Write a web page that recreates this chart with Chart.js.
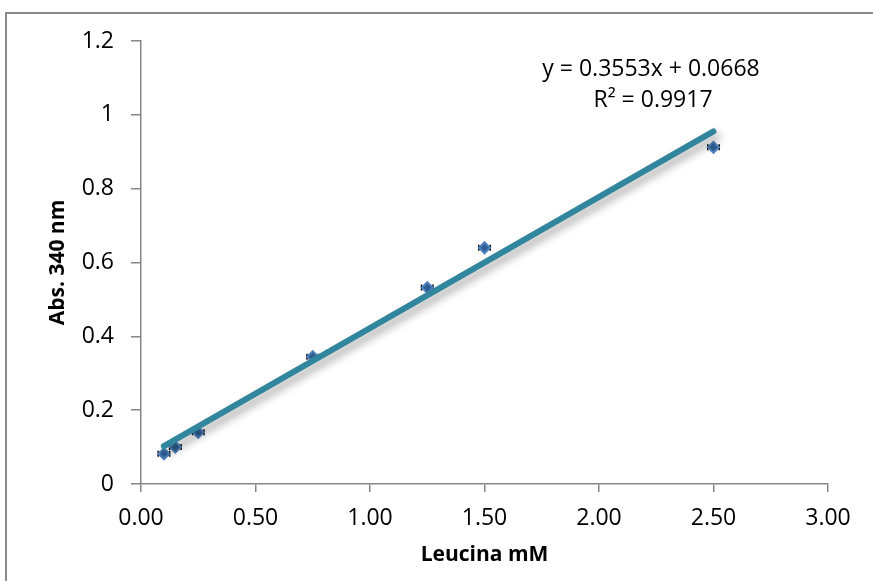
<!DOCTYPE html>
<html>
<head>
<meta charset="utf-8">
<script src="https://cdn.jsdelivr.net/npm/chart.js@4/dist/chart.umd.min.js"></script>
<style>
  html,body{margin:0;padding:0;background:#fff;}
  #wrap{position:relative;width:873px;height:581px;}
  canvas{display:block;}
</style>
</head>
<body>
<div id="wrap"><canvas id="c" width="873" height="581"></canvas></div>
<script>
// ---- data ----
const leucina = [0.10, 0.15, 0.25, 0.75, 1.25, 1.50, 2.50];
const absorbance = [0.082, 0.100, 0.140, 0.345, 0.532, 0.640, 0.912];
const xError = [0.025, 0.025, 0.025, 0.025, 0.025, 0.025, 0.025];
const trendSlope = 0.3553;
const trendIntercept = 0.0668;
const trendRange = [0.10, 2.50];
const equationLines = ["y = 0.3553x + 0.0668", "R\u00B2 = 0.9917"];
const yTicks = [0, 0.2, 0.4, 0.6, 0.8, 1, 1.2];
const xTicks = [0, 0.5, 1, 1.5, 2, 2.5, 3];

const FONT = "'Open Sans', Lato, sans-serif";
const AXIS_COLOR = '#868686';

const points = leucina.map((x, i) => ({x, y: absorbance[i]}));
const trendPts = trendRange.map(x => ({x, y: trendSlope * x + trendIntercept}));

const framePlugin = {
  id: 'frame',
  beforeDraw(chart) {
    const ctx = chart.ctx;
    ctx.save();
    ctx.fillStyle = '#fff';
    ctx.fillRect(0, 0, chart.width, chart.height);
    ctx.strokeStyle = '#8a8a8a';
    ctx.lineWidth = 2;
    ctx.strokeRect(6, 13, 900, 620);
    ctx.restore();
  }
};

const shadowPlugin = {
  id: 'shadow',
  beforeDatasetDraw(chart, args) {
    if (args.index === 0) {
      const ctx = chart.ctx;
      ctx.save();
      ctx.shadowColor = 'rgba(0,0,0,0.35)';
      ctx.shadowBlur = 8;
      ctx.shadowOffsetX = 4;
      ctx.shadowOffsetY = 5;
    }
  },
  afterDatasetDraw(chart, args) {
    if (args.index === 0) chart.ctx.restore();
  }
};

const errorBarPlugin = {
  id: 'errbars',
  beforeDatasetDraw(chart, args) {
    if (args.index !== 1) return;
    const ctx = chart.ctx;
    const xs = chart.scales.x, ys = chart.scales.y;
    ctx.save();
    ctx.strokeStyle = '#000';
    ctx.lineWidth = 1.5;
    leucina.forEach((x, i) => {
      const py = ys.getPixelForValue(absorbance[i]);
      const x1 = xs.getPixelForValue(x - xError[i]);
      const x2 = xs.getPixelForValue(x + xError[i]);
      ctx.beginPath();
      ctx.moveTo(x1, py); ctx.lineTo(x2, py);
      ctx.moveTo(x1, py - 3); ctx.lineTo(x1, py + 3);
      ctx.moveTo(x2, py - 3); ctx.lineTo(x2, py + 3);
      ctx.stroke();
    });
    ctx.restore();
  }
};

const equationPlugin = {
  id: 'equation',
  afterDraw(chart) {
    const ctx = chart.ctx;
    ctx.save();
    ctx.fillStyle = '#000';
    ctx.font = '23px ' + FONT;
    ctx.textAlign = 'center';
    ctx.textBaseline = 'middle';
    ctx.fillText(equationLines[0], 651, 69);
    ctx.fillText(equationLines[1], 653, 100);
    ctx.restore();
  }
};

new Chart(document.getElementById('c'), {
  type: 'scatter',
  data: {
    datasets: [
      {
        type: 'line',
        label: 'trend',
        data: trendPts,
        borderColor: '#31859C',
        borderWidth: 6,
        borderCapStyle: 'round',
        pointRadius: 0,
        fill: false,
        order: 0
      },
      {
        label: 'Abs',
        data: points,
        pointStyle: 'rectRot',
        pointRadius: 5.5,
        backgroundColor: '#2F5F95',
        borderColor: '#4F81BD',
        borderWidth: 2,
        order: 1
      }
    ]
  },
  options: {
    responsive: false,
    animation: false,
    events: [],
    layout: { padding: { left: 0, top: 41, right: 45, bottom: 0 } },
    plugins: { legend: { display: false }, tooltip: { enabled: false } },
    scales: {
      x: {
        type: 'linear',
        min: 0, max: 3,
        afterBuildTicks(scale) { scale.ticks = xTicks.map(v => ({value: v})); },
        afterFit(scale) { scale.height = 97; },
        border: { color: AXIS_COLOR, width: 1.5 },
        grid: { drawOnChartArea: false, drawTicks: true, tickLength: 8, color: AXIS_COLOR, lineWidth: 1.5 },
        ticks: {
          color: '#000', padding: 13, maxRotation: 0,
          font: { family: FONT, size: 23 },
          callback: v => Number(v).toFixed(2)
        },
        title: {
          display: true, text: 'Leucina mM', color: '#000',
          font: { family: FONT, size: 21, weight: 'bold' },
          padding: { top: 0, bottom: 13 }
        }
      },
      y: {
        type: 'linear',
        min: 0, max: 1.2,
        afterBuildTicks(scale) { scale.ticks = yTicks.map(v => ({value: v})); },
        afterFit(scale) { scale.width = 141; },
        border: { color: AXIS_COLOR, width: 1.5 },
        grid: { drawOnChartArea: false, drawTicks: true, tickLength: 10, color: AXIS_COLOR, lineWidth: 1.5 },
        ticks: {
          color: '#000', padding: 17,
          font: { family: FONT, size: 23 },
          callback: v => String(Math.round(v * 10) / 10)
        },
        title: {
          display: true, text: 'Abs. 340 nm', color: '#000',
          font: { family: FONT, size: 21, weight: 'bold' },
          padding: { top: 45, bottom: 0 }
        }
      }
    }
  },
  plugins: [framePlugin, shadowPlugin, errorBarPlugin, equationPlugin]
});
</script>
</body>
</html>
